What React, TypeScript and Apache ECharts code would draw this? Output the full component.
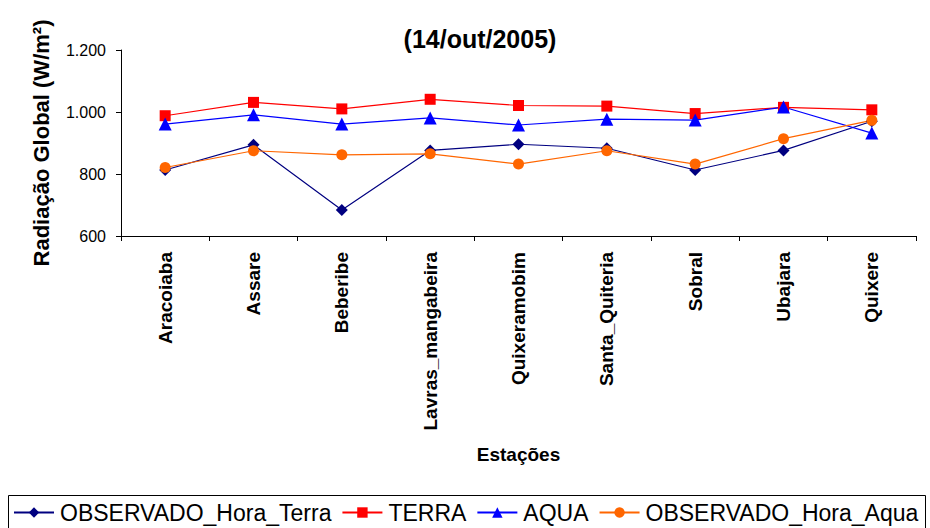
import React, { useEffect, useRef } from "react";
import * as echarts from "echarts";

const categories = ["Aracoiaba", "Assare", "Beberibe", "Lavras_mangabeira", "Quixeramobim", "Santa_Quiteria", "Sobral", "Ubajara", "Quixere"];
const obsHoraTerra = [813, 894, 684, 876, 896, 883, 813, 876, 970];
const terra = [988, 1031, 1010, 1041, 1021, 1019, 995, 1015, 1007];
const aqua = [961, 991, 961, 981, 958, 977, 974, 1016, 932];
const obsHoraAqua = [821, 875, 862, 865, 832, 875, 832, 914, 973];
const yTicks = [600, 800, 1000, 1200];

const FONT = "Liberation Sans, Arial, sans-serif";

export default function App() {
  const ref = useRef<HTMLDivElement>(null);
  useEffect(() => {
    if (!ref.current) return;
    const chart = echarts.init(ref.current, null, { renderer: "svg" });
    const mk = (name: string, data: number[], color: string, symbol: string, size: number) => ({
      name,
      type: "line",
      data,
      symbol,
      symbolSize: size,
      lineStyle: { color, width: 1.2 },
      itemStyle: { color },
      z: 3,
    });
    chart.setOption({
      animation: false,
      backgroundColor: "#fff",
      textStyle: { fontFamily: FONT },
      title: {
        text: "(14/out/2005)",
        left: 475,
        top: 21,
        textAlign: "center",
        textStyle: { fontFamily: FONT, fontWeight: "bold", fontSize: 25, color: "#000" },
      },
      grid: { left: 121, right: 14, top: 50, bottom: 292, containLabel: false },
      xAxis: {
        type: "category",
        data: categories,
        boundaryGap: true,
        axisLine: { lineStyle: { color: "#000", width: 1 } },
        axisTick: { show: true, length: 5, lineStyle: { color: "#000" } },
        axisLabel: {
          rotate: 90,
          interval: 0,
          margin: 16,
          color: "#000",
          fontFamily: FONT,
          fontWeight: "bold",
          fontSize: 19,
        },
        name: "Estações",
        nameLocation: "middle",
        nameGap: 209,
        nameTextStyle: { fontFamily: FONT, fontWeight: "bold", fontSize: 19, color: "#000", verticalAlign: "top" },
      },
      yAxis: {
        type: "value",
        min: yTicks[0],
        max: yTicks[yTicks.length - 1],
        interval: 200,
        splitLine: { show: false },
        axisLine: { show: true, lineStyle: { color: "#000", width: 1 } },
        axisTick: { show: true, length: 5, lineStyle: { color: "#000" } },
        axisLabel: {
          color: "#000",
          fontFamily: FONT,
          fontSize: 16,
          margin: 15,
          formatter: (v: number) => String(v).replace(/\B(?=(\d{3})+(?!\d))/g, "."),
        },
        name: "Radiação Global (W/m²)",
        nameLocation: "middle",
        nameGap: 69,
        nameTextStyle: { fontFamily: FONT, fontWeight: "bold", fontSize: 22, color: "#000" },
      },
      graphic: [
        {
          type: "rect",
          shape: { x: 8.5, y: 495.5, width: 917, height: 40 },
          style: { fill: "none", stroke: "#000", lineWidth: 1 },
          silent: true,
        },
      ],
      legend: {
        top: 501,
        left: 13,
        orient: "horizontal",
        padding: 0,
        itemGap: 10,
        itemWidth: 40,
        itemHeight: 13,
        textStyle: { fontFamily: FONT, fontSize: 23, color: "#000", padding: [0, 0, 0, 1] },
        data: ["OBSERVADO_Hora_Terra", "TERRA", "AQUA", "OBSERVADO_Hora_Aqua"],
      },
      series: [
        mk("OBSERVADO_Hora_Terra", obsHoraTerra, "#000080", "diamond", 12),
        mk("TERRA", terra, "#FF0000", "rect", 11),
        mk("AQUA", aqua, "#0000FF", "triangle", 13),
        mk("OBSERVADO_Hora_Aqua", obsHoraAqua, "#FF6600", "circle", 11),
      ],
    });
    return () => chart.dispose();
  }, []);
  return <div ref={ref} style={{ width: 930, height: 528, position: "absolute", left: 0, top: 0 }} />;
}
